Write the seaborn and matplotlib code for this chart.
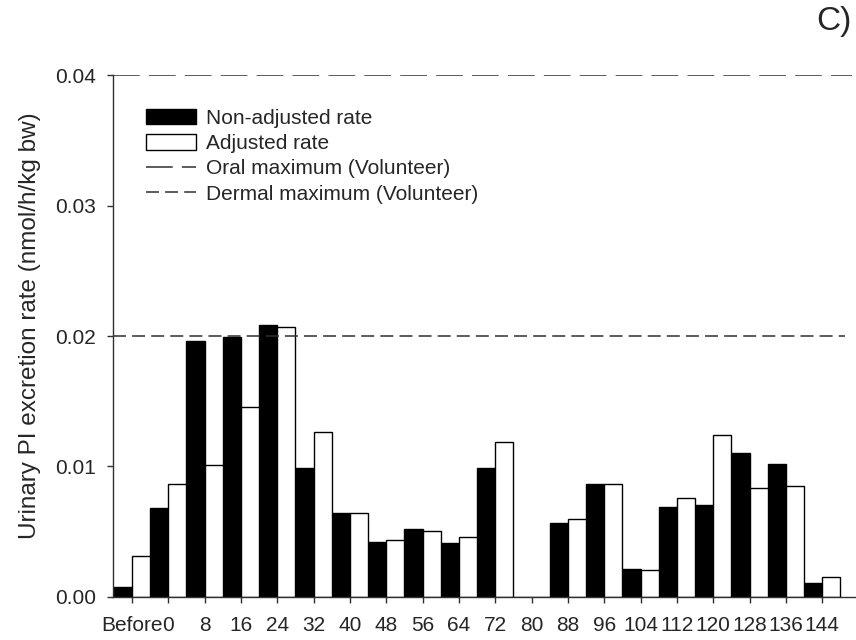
import matplotlib
matplotlib.use("Agg")
import matplotlib.pyplot as plt
import seaborn as sns
import pandas as pd
from matplotlib.patches import Patch
from matplotlib.lines import Line2D
from matplotlib.ticker import FormatStrFormatter

# sampling times (h)
hours = ["Before", "0", "8", "16", "24", "32", "40", "48", "56", "64", "72",
         "80", "88", "96", "104", "112", "120", "128", "136", "144"]
non_adjusted = [0.00079, 0.0068, 0.0196, 0.01995, 0.02084, 0.00986, 0.00641,
                0.00419, 0.00519, 0.00416, 0.00991, 0.0, 0.0057, 0.00864,
                0.00215, 0.0069, 0.00708, 0.01103, 0.01019, 0.0011]
adjusted = [0.00317, 0.00864, 0.0101, 0.01454, 0.02067, 0.01262, 0.00645,
            0.00437, 0.00508, 0.00462, 0.01185, 0.0, 0.006, 0.00868,
            0.00207, 0.00759, 0.01239, 0.00838, 0.00853, 0.00153]
oral_max = 0.04
dermal_max = 0.02

df = pd.DataFrame({
    "time": hours * 2,
    "rate": non_adjusted + adjusted,
    "series": ["Non-adjusted rate"] * len(hours) + ["Adjusted rate"] * len(hours),
})

sns.set_theme(style="ticks")
plt.rcParams['font.family'] = ['Liberation Sans', 'DejaVu Sans']

fig = plt.figure(figsize=(8.56, 6.4), dpi=100)
ax = fig.add_axes([0.132, 0.0672, 0.868, 0.8156])

sns.barplot(data=df, x="time", y="rate", hue="series", order=hours,
            palette=["black", "white"], width=1.0, edgecolor="black",
            linewidth=1.0, errorbar=None, legend=False, ax=ax)

oral_dash = (17.5, 6)
dermal_dash = (8.5, 4)
ax.axhline(oral_max, xmax=0.995, color="#303030", lw=1.1, dashes=oral_dash)
ax.axhline(dermal_max, xmax=0.985, color="#303030", lw=1.1, dashes=dermal_dash)

ax.set_xlim(-0.52, 19.93)
ax.set_ylim(0, 0.04)
ax.set_yticks([0, 0.01, 0.02, 0.03, 0.04])
ax.yaxis.set_major_formatter(FormatStrFormatter("%.2f"))
ax.set_xlabel("")
ax.set_ylabel("Urinary PI excretion rate (nmol/h/kg bw)", fontsize=17.5)
ax.yaxis.set_label_coords(-0.097, 0.52)
ax.tick_params(axis="both", direction="out", length=4.5, width=1, labelsize=15,
               color="#303030")
ax.tick_params(axis="y", pad=8)
ax.tick_params(axis="x", pad=9)
sns.despine(ax=ax)
for s in ["left", "bottom"]:
    ax.spines[s].set_color("#303030")
    ax.spines[s].set_linewidth(1)

handles = [
    Patch(facecolor="black", edgecolor="black"),
    Patch(facecolor="white", edgecolor="black"),
    Line2D([], [], color="#303030", lw=1.1, dashes=oral_dash),
    Line2D([], [], color="#303030", lw=1.1, dashes=dermal_dash),
]
labels = ["Non-adjusted rate", "Adjusted rate", "Oral maximum (Volunteer)",
          "Dermal maximum (Volunteer)"]
ax.legend(handles, labels, loc="upper left", bbox_to_anchor=(0.045, 0.935),
          frameon=False, fontsize=15, handlelength=2.4, handleheight=0.75,
          handletextpad=0.45, labelspacing=0.3, borderpad=0, borderaxespad=0)

fig.text(0.995, 0.966, "C)", ha="right", va="center", fontsize=24)

fig.savefig("out.png", dpi=100)
